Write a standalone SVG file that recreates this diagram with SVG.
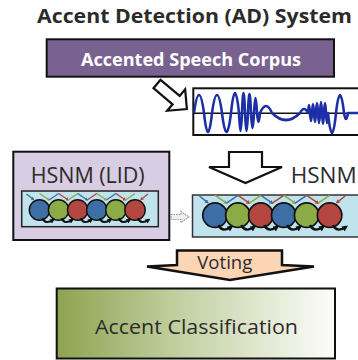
<svg xmlns="http://www.w3.org/2000/svg" xmlns:xlink="http://www.w3.org/1999/xlink" width="358" height="360" viewBox="0 0 358 360">
<style>
.t{font-family:"Open Sans","Liberation Sans",sans-serif;fill:#2b2b2b}
.b{font-weight:bold}
.box{stroke:#111;stroke-width:2}
.hollow{fill:#fff;stroke:#111;stroke-width:2.2;stroke-linejoin:miter}
.cir{stroke:#111;stroke-width:1.4}
.zz{fill:none;stroke-width:1.3}
.rec{fill:none;stroke:#111;stroke-width:2;marker-end:url(#ak)}
</style>
<defs>
<linearGradient id="gr" x1="0" y1="0" x2="1" y2="0">
<stop offset="0" stop-color="#8da351"/>
<stop offset="0.45" stop-color="#c3d1a3"/>
<stop offset="1" stop-color="#fdfdfb"/>
</linearGradient>
<marker id="ak" viewBox="0 0 6 6" refX="4" refY="3" markerWidth="5" markerHeight="5" markerUnits="userSpaceOnUse" orient="auto"><path d="M0,0 L6,3 L0,6 z" fill="#111"/></marker>
<marker id="ab" viewBox="0 0 6 6" refX="4" refY="3" markerWidth="3.5" markerHeight="3.5" markerUnits="userSpaceOnUse" orient="auto"><path d="M0,0 L6,3 L0,6 z" fill="#3d6ea5"/></marker>
<marker id="ag" viewBox="0 0 6 6" refX="4" refY="3" markerWidth="3.5" markerHeight="3.5" markerUnits="userSpaceOnUse" orient="auto"><path d="M0,0 L6,3 L0,6 z" fill="#8bab47"/></marker>
<marker id="ar" viewBox="0 0 6 6" refX="4" refY="3" markerWidth="3.5" markerHeight="3.5" markerUnits="userSpaceOnUse" orient="auto"><path d="M0,0 L6,3 L0,6 z" fill="#b3473f"/></marker>
<clipPath id="wc"><rect x="193.3" y="88.3" width="170" height="46.7"/></clipPath>
<g id="net">
<path class="zz" stroke="#3d6ea5" d="M-13,-16 L-6,-10.5" marker-end="url(#ab)"/>
<path class="zz" stroke="#8bab47" d="M0,-16.5 L9.55,-10" marker-end="url(#ag)"/>
<path class="zz" stroke="#3d6ea5" d="M9.55,-10 L19.1,-16.5"/>
<path class="zz" stroke="#b3473f" d="M19.1,-16.5 L28.65,-10" marker-end="url(#ar)"/>
<path class="zz" stroke="#8bab47" d="M28.65,-10 L38.2,-16.5"/>
<path class="zz" stroke="#3d6ea5" d="M38.2,-16.5 L47.75,-10" marker-end="url(#ab)"/>
<path class="zz" stroke="#b3473f" d="M47.75,-10 L57.3,-16.5"/>
<path class="zz" stroke="#8bab47" d="M57.3,-16.5 L66.85,-10" marker-end="url(#ag)"/>
<path class="zz" stroke="#3d6ea5" d="M66.85,-10 L76.4,-16.5"/>
<path class="zz" stroke="#b3473f" d="M76.4,-16.5 L85.95,-10" marker-end="url(#ar)"/>
<path class="zz" stroke="#8bab47" d="M85.95,-10 L95.5,-16.5"/>
<path class="zz" stroke="#b3473f" d="M108.5,-16 L101.5,-10.5" marker-end="url(#ar)"/>
<circle class="cir" cx="0" cy="0" r="10.2" fill="#3d6ea5"/>
<circle class="cir" cx="19.1" cy="0" r="10.2" fill="#8bab47"/>
<circle class="cir" cx="38.2" cy="0" r="10.2" fill="#b3473f"/>
<circle class="cir" cx="57.3" cy="0" r="10.2" fill="#3d6ea5"/>
<circle class="cir" cx="76.4" cy="0" r="10.2" fill="#8bab47"/>
<circle class="cir" cx="95.5" cy="0" r="10.2" fill="#b3473f"/>
<path class="rec" d="M2.8,8.2 Q6,15 13.9,9.6"/>
<path class="rec" d="M21.9,8.2 Q25.1,15 33,9.6"/>
<path class="rec" d="M41,8.2 Q44.2,15 52.1,9.6"/>
<path class="rec" d="M60.1,8.2 Q63.3,15 71.2,9.6"/>
<path class="rec" d="M79.2,8.2 Q82.4,15 90.3,9.6"/>
<path class="rec" d="M98.3,8.2 Q101.5,15 109.4,9.6"/>
</g>
</defs>
<rect width="358" height="360" fill="#fff"/>
<g id="title"><text class="t b" x="194.5" y="22.5" font-size="19" text-anchor="middle" textLength="315" lengthAdjust="spacingAndGlyphs" fill="#111">Accent Detection (AD) System</text></g>
<g id="corpus">
<rect class="box" x="46.7" y="39.3" width="287.3" height="37.4" fill="#7a6290"/>
<text class="t b" x="191" y="66" font-size="17" text-anchor="middle" textLength="220" lengthAdjust="spacingAndGlyphs" style="fill:#fff">Accented Speech Corpus</text>
</g>
<g id="waveform">
<rect class="box" x="193.3" y="88.3" width="170" height="46.7" fill="#fff"/>
<g clip-path="url(#wc)">
<line x1="193" y1="113.3" x2="360" y2="113.3" stroke="#111" stroke-width="1.5"/>
<path fill="none" stroke="#1c2fa6" stroke-width="2.6" stroke-linejoin="round" d="M194,113 Q199,77 204,113 Q208,151 212,113 Q217,77 222,113 Q226.5,151 231,113 Q235,73 239,113 Q240.5,149 242,113 Q243.5,73 245,113 Q246.5,149 248,113 Q249.5,75 251,113 Q252.5,143 254,113 Q255.5,83 257,113 Q258.5,131 260,113 Q266,99 272,113 Q286,127 300,113 Q304,105 308,113 Q309,97 310,113 Q311,129 312,113 Q313,95 314,113 Q315,131 316,113 Q317,93 318,113 Q319,133 320,113 Q321,91 322,113 Q323,135 324,113 Q325,93 326,113 Q327,133 328,113 Q332,153 336,113 Q340,77 344,113 Q346,125 348,113 L360,113"/>
</g>
</g>
<g id="lid">
<rect class="box" x="13.3" y="151.7" width="156" height="88.3" fill="#d9cde3"/>
<text class="t" x="30.7" y="183.3" font-size="21.5" textLength="114" lengthAdjust="spacingAndGlyphs">HSNM (LID)</text>
<rect x="21.7" y="191" width="136.6" height="35.7" fill="#c0e3ee" stroke="#222" stroke-width="1.5"/>
<use xlink:href="#net" href="#net" transform="translate(39.5,210)"/>
</g>
<g id="hsnm">
<rect x="192.5" y="195" width="170" height="42" fill="#c0e3ee" stroke="#333" stroke-width="1.5"/>
<use xlink:href="#net" href="#net" transform="translate(215,215.2) scale(1.2)"/>
<text class="t" x="290.7" y="182.7" font-size="21.5" textLength="66" lengthAdjust="spacingAndGlyphs">HSNM</text>
</g>
<g id="classification">
<rect class="box" x="56.7" y="288.5" width="278.3" height="70" fill="url(#gr)"/>
<text class="t" x="95" y="334" font-size="20.5" textLength="203" lengthAdjust="spacingAndGlyphs" fill="#222">Accent Classification</text>
</g>
<g id="connectors">
<polygon class="hollow" transform="translate(157,84) rotate(40)" points="0,-5.5 25,-5.5 25,-14 39,0 25,14 25,5.5 0,5.5"/>
<polygon class="hollow" points="229,152 262,152 262,167 282,167 245.5,183 209,167 229,167"/>
<polygon points="171,214.5 181,214.5 181,211.5 189,217 181,222.5 181,219.5 171,219.5" fill="#eee" stroke="#999" stroke-width="1.2" stroke-dasharray="1.5 1"/>
<polygon points="177,250.5 282,250.5 282,265 314,266.5 230,280 147,266.5 177,265" fill="#fcd5b5" stroke="#111" stroke-width="2.5"/>
<text class="t" x="197.3" y="269.3" font-size="19" textLength="55" lengthAdjust="spacingAndGlyphs">Voting</text>
</g>
</svg>
